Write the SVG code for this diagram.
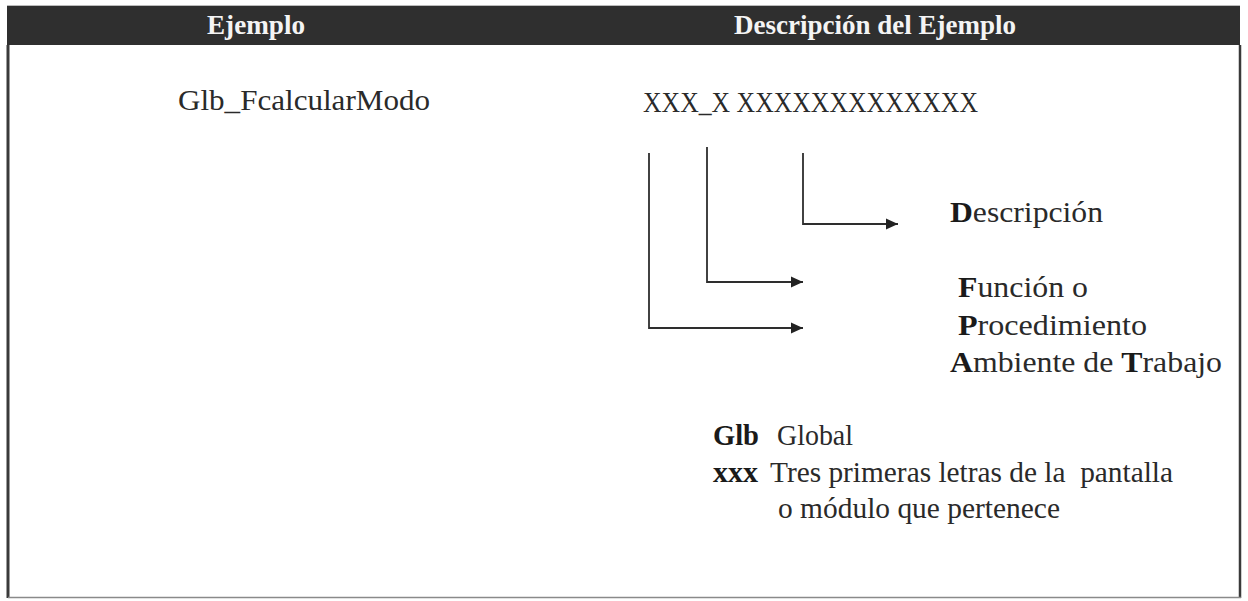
<svg xmlns="http://www.w3.org/2000/svg" width="1248" height="601" viewBox="0 0 1248 601">
<style>
.t{font-family:"Liberation Serif","Times New Roman",serif;font-size:29px;fill:#2a2a2a}
.h{font-family:"Liberation Serif","Times New Roman",serif;font-size:28px;font-weight:bold;fill:#f4f4f4}
.b{font-weight:bold;fill:#1a1a1a}
.c{fill:none;stroke:#2e2e2e;stroke-width:1.8}
</style>
<defs>
<marker id="ah" viewBox="0 0 12 12" refX="12" refY="6" markerWidth="12" markerHeight="12" markerUnits="userSpaceOnUse" orient="auto">
<path d="M0,0.5 L12,6 L0,11.5 Z" fill="#222"/>
</marker>
</defs>
<rect width="1248" height="601" fill="#fff"/>
<g id="frame">
<rect x="7" y="6" width="1233" height="39" fill="#2f2f2f"/>
<line x1="8" y1="45" x2="8" y2="598" stroke="#3a3a3a" stroke-width="3"/>
<line x1="1240" y1="45" x2="1240" y2="598" stroke="#3a3a3a" stroke-width="2.5"/>
<line x1="8" y1="597.5" x2="1241" y2="597.5" stroke="#8a8a8a" stroke-width="1.5"/>
<line x1="7" y1="5.5" x2="1240" y2="5.5" stroke="#bbb" stroke-width="1"/>
</g>
<g id="header">
<text class="h" x="256" y="34" text-anchor="middle" textLength="98" lengthAdjust="spacingAndGlyphs">Ejemplo</text>
<text class="h" x="875" y="34" text-anchor="middle" textLength="282" lengthAdjust="spacingAndGlyphs">Descripción del Ejemplo</text>
</g>
<g id="example">
<text class="t" x="178" y="110" textLength="252" lengthAdjust="spacingAndGlyphs">Glb_FcalcularModo</text>
</g>
<g id="pattern">
<text class="t" x="643" y="112" font-size="30" textLength="335" lengthAdjust="spacingAndGlyphs">XXX_X XXXXXXXXXXXXX</text>
</g>
<g id="connectors">
<path class="c" d="M649,153 V328 H803" marker-end="url(#ah)"/>
<path class="c" d="M707,147 V282 H803" marker-end="url(#ah)"/>
<path class="c" d="M803,153 V224 H898" marker-end="url(#ah)"/>
</g>
<g id="label-descripcion">
<text class="t" x="950" y="222" textLength="153" lengthAdjust="spacingAndGlyphs"><tspan class="b">D</tspan>escripción</text>
</g>
<g id="label-funcion">
<text class="t" x="958" y="297" textLength="130" lengthAdjust="spacingAndGlyphs"><tspan class="b">F</tspan>unción o</text>
<text class="t" x="958" y="335" textLength="189" lengthAdjust="spacingAndGlyphs"><tspan class="b">P</tspan>rocedimiento</text>
</g>
<g id="label-ambiente">
<text class="t" x="950" y="372" textLength="272" lengthAdjust="spacingAndGlyphs"><tspan class="b">A</tspan>mbiente de <tspan class="b">T</tspan>rabajo</text>
</g>
<g id="legend">
<text class="t b" x="713" y="445" textLength="46" lengthAdjust="spacingAndGlyphs">Glb</text>
<text class="t" x="777" y="445" textLength="76" lengthAdjust="spacingAndGlyphs">Global</text>
<text class="t b" x="713" y="482" textLength="45" lengthAdjust="spacingAndGlyphs">xxx</text>
<text class="t" x="770" y="482" textLength="403" lengthAdjust="spacingAndGlyphs" xml:space="preserve">Tres primeras letras de la  pantalla</text>
<text class="t" x="778" y="518" textLength="282" lengthAdjust="spacingAndGlyphs">o módulo que pertenece</text>
</g>
</svg>
